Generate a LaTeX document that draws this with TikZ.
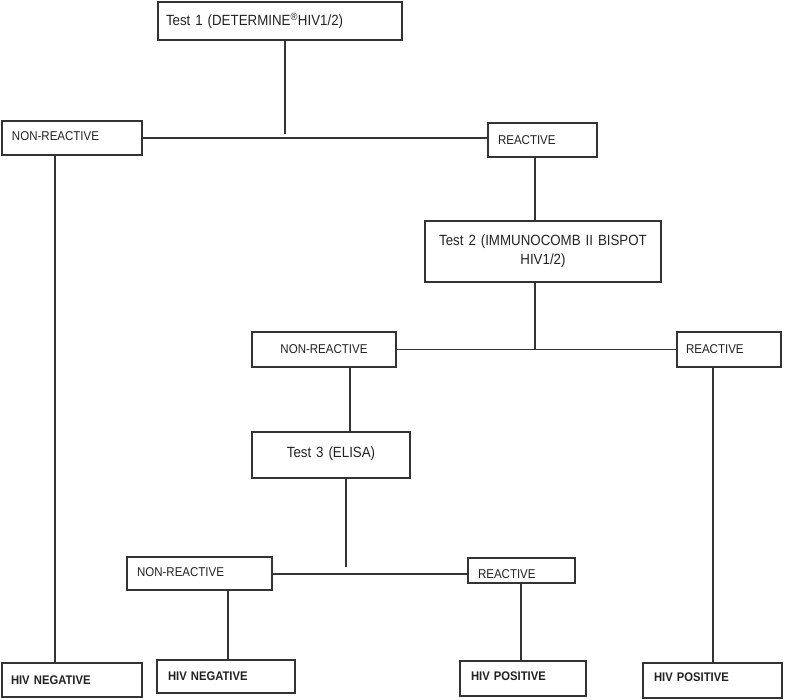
\documentclass[tikz,border=0pt]{standalone}
\usepackage{fontspec}
\setmainfont[FakeStretch=0.9]{Liberation Sans}
\definecolor{ln}{HTML}{333333}
\definecolor{tx}{HTML}{222222}
\tikzset{
  box/.style={draw=ln, line width=1.3pt, rectangle, inner ysep=2pt, text=tx, font=\fontsize{12.8}{14}\selectfont},
  testbox/.style={box, font=\fontsize{14.8}{19}\selectfont},
  resbox/.style={box, font=\fontsize{12.5}{14}\selectfont\bfseries},
  conn/.style={draw=ln, line width=1.3pt}
}
\begin{document}
\begin{tikzpicture}[x=1pt,y=-1pt]
\useasboundingbox (0,0) rectangle (787,700);
% Test 1
\node[testbox, minimum width=244pt, minimum height=38pt, text width=228pt, inner xsep=8pt, align=left] (t1) at (280,21) {\raisebox{1pt}{Test 1 (DETERMINE\textsuperscript{\textregistered}HIV1/2)}};
% level 1
\node[box, minimum width=140pt, minimum height=34pt, text width=120pt, inner xsep=10pt, align=left] (nr1) at (72,138) {\raisebox{4pt}{NON-REACTIVE}};
\node[box, minimum width=109pt, minimum height=34pt, text width=89pt, inner xsep=10pt, align=left] (r1) at (542.5,140) {REACTIVE};
% Test 2
\node[testbox, minimum width=236pt, minimum height=61pt, text width=220pt, inner xsep=8pt, align=center] (t2) at (543,251.5) {Test 2 (IMMUNOCOMB II BISPOT\\HIV1/2)};
% level 2
\node[box, minimum width=144pt, minimum height=35pt, text width=128pt, inner xsep=8pt, align=center] (nr2) at (324,349.5) {NON-REACTIVE};
\node[box, minimum width=104pt, minimum height=35pt, text width=86pt, inner xsep=9pt, align=left] (r2) at (729,349.5) {REACTIVE};
% Test 3
\node[testbox, minimum width=158pt, minimum height=46pt, text width=142pt, inner xsep=8pt, align=center] (t3) at (331,455) {\raisebox{6pt}{Test 3 (ELISA)}};
% level 3
\node[box, minimum width=145pt, minimum height=33pt, text width=125pt, inner xsep=10pt, align=left] (nr3) at (199.5,573.5) {\raisebox{2pt}{NON-REACTIVE}};
\node[box, minimum width=107pt, minimum height=25pt, text width=87pt, inner xsep=10pt, align=left] (r3) at (521.5,570.5) {\raisebox{-3.5pt}[\height][\depth]{REACTIVE}};
% results
\node[resbox, minimum width=140pt, minimum height=34pt, text width=122pt, inner xsep=9pt, align=left] (neg1) at (72,680) {HIV NEGATIVE};
\node[resbox, minimum width=138pt, minimum height=33pt, text width=116pt, inner xsep=11pt, align=left] (neg2) at (226,676.5) {\raisebox{1.5pt}{HIV NEGATIVE}};
\node[resbox, minimum width=126pt, minimum height=35pt, text width=104pt, inner xsep=11pt, align=left] (pos1) at (523,678.5) {\raisebox{4.5pt}{HIV POSITIVE}};
\node[resbox, minimum width=139pt, minimum height=35pt, text width=117pt, inner xsep=11pt, align=left] (pos2) at (712.5,680.5) {\raisebox{6pt}{HIV POSITIVE}};
% junction coordinates
\coordinate (j1) at (285,134);
\coordinate (j2) at (535,349.5);
\coordinate (j3) at (346,567);
% connectors
\draw[conn] (t1.south -| j1) -- (j1);
\draw[conn] (nr1.east) -- (nr1.east -| r1.west);
\draw[conn] ([xshift=-17pt]nr1.south) -- ([xshift=-17pt]nr1.south |- neg1.north);
\draw[conn] ([xshift=-7.5pt]r1.south) -- ([xshift=-7.5pt]r1.south |- t2.north);
\draw[conn] (t2.south -| j2) -- (j2);
\draw[conn] (nr2.east) -- (r2.west);
\draw[conn] ([xshift=26pt]nr2.south) -- ([xshift=26pt]nr2.south |- t3.north);
\draw[conn] ([xshift=-16pt]r2.south) -- ([xshift=-16pt]r2.south |- pos2.north);
\draw[conn] (t3.south -| j3) -- (j3);
\draw[conn] ([yshift=-0.5pt]nr3.east) -- ([yshift=-0.5pt]nr3.east -| r3.west);
\draw[conn] ([xshift=28.5pt]nr3.south) -- ([xshift=28.5pt]nr3.south |- neg2.north);
\draw[conn] ([xshift=-0.5pt]r3.south) -- ([xshift=-0.5pt]r3.south |- pos1.north);
\end{tikzpicture}
\end{document}
